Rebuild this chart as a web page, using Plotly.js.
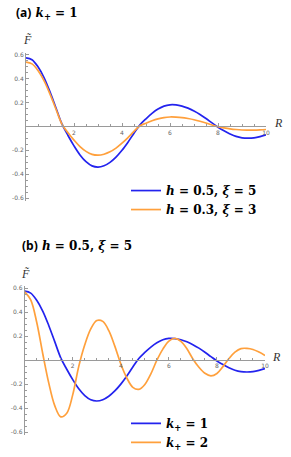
<!DOCTYPE html>
<html>
<head>
<meta charset="utf-8">
<script src="https://cdn.plot.ly/plotly-3.0.1.min.js"></script>
<style>
html,body{margin:0;padding:0;background:#fff;}
#chart{width:291px;height:457px;}
</style>
</head>
<body>
<div id="chart"></div>
<script>
// R sample positions
const R = [0,0.25,0.5,0.75,1,1.25,1.5,1.75,2,2.25,2.5,2.75,3,3.25,3.5,3.75,4,4.25,4.5,4.75,5,5.25,5.5,5.75,6,6.25,6.5,6.75,7,7.25,7.5,7.75,8,8.25,8.5,8.75,9,9.25,9.5,9.75,10];

// (a) k+ = 1 : h = 0.5, xi = 5
const F_h05_xi5 = [0.576,0.56,0.50,0.41,0.29,0.155,0.02,-0.075,-0.162,-0.238,-0.295,-0.330,-0.340,-0.329,-0.300,-0.256,-0.199,-0.131,-0.056,0.014,0.065,0.110,0.146,0.171,0.182,0.181,0.171,0.154,0.130,0.101,0.067,0.030,-0.006,-0.036,-0.062,-0.083,-0.095,-0.098,-0.095,-0.085,-0.070];
// (a) k+ = 1 : h = 0.3, xi = 3
const F_h03_xi3 = [0.54,0.525,0.469,0.384,0.272,0.145,0.019,-0.053,-0.114,-0.168,-0.208,-0.233,-0.240,-0.232,-0.212,-0.181,-0.140,-0.093,-0.040,0.006,0.028,0.048,0.064,0.075,0.080,0.079,0.075,0.067,0.057,0.044,0.029,0.013,-0.002,-0.011,-0.019,-0.025,-0.029,-0.030,-0.030,-0.028,-0.025];
// (b) h = 0.5, xi = 5 : k+ = 1 (same curve as the blue one in (a))
const F_k1 = F_h05_xi5;
// (b) h = 0.5, xi = 5 : k+ = 2
const F_k2 = [0.57,0.503,0.317,0.056,-0.189,-0.379,-0.472,-0.442,-0.287,-0.051,0.129,0.261,0.331,0.324,0.247,0.118,-0.031,-0.148,-0.226,-0.243,-0.202,-0.114,0.0,0.093,0.160,0.182,0.157,0.095,0.011,-0.059,-0.109,-0.130,-0.110,-0.053,0.014,0.067,0.097,0.099,0.090,0.068,0.040];

const labelsA = ['<b><i>h</i> = 0.5, <i>ξ</i> = 5</b>', '<b><i>h</i> = 0.3, <i>ξ</i> = 3</b>'];
const labelsB = ['<b><i>k</i><sub>+</sub> = 1</b>', '<b><i>k</i><sub>+</sub> = 2</b>'];
const yTickVals = [-0.6,-0.4,-0.2,0.2,0.4,0.6];
const yTickText = ['-0.6','-0.4','-0.2','0.2','0.4','0.6'];
const xTickVals = [2,4,6,8,10];
const xTickText = ['2','4','6','8','10'];

const BLUE = '#2323ee';
const ORANGE = '#ffa03c';

const traces = [
  {x:R, y:F_h05_xi5, xaxis:'x', yaxis:'y', mode:'lines', name:labelsA[0], legend:'legend',
   line:{color:BLUE, width:1.7, shape:'spline', smoothing:1}},
  {x:R, y:F_h03_xi3, xaxis:'x', yaxis:'y', mode:'lines', name:labelsA[1], legend:'legend',
   line:{color:ORANGE, width:1.7, shape:'spline', smoothing:1}},
  {x:R, y:F_k1, xaxis:'x2', yaxis:'y2', mode:'lines', name:labelsB[0], legend:'legend2',
   line:{color:BLUE, width:1.7, shape:'spline', smoothing:1}},
  {x:R, y:F_k2, xaxis:'x2', yaxis:'y2', mode:'lines', name:labelsB[1], legend:'legend2',
   line:{color:ORANGE, width:1.7, shape:'spline', smoothing:1}}
];

const W = 291, H = 457;
const fx = px => px / W;
const fy = py => 1 - py / H;

const axisCommon = {
  showgrid:false, zeroline:false, showline:true, linecolor:'#9a9a9a', linewidth:1,
  ticks:'inside', ticklen:3, tickcolor:'#9a9a9a', tickwidth:1,
  tickfont:{family:'DejaVu Sans, sans-serif', size:6, color:'#666'},
  fixedrange:true
};

function xAxis(yAxisName, pos, domain) {
  return Object.assign({}, axisCommon, {
    anchor:'free', overlaying:undefined, position:pos, domain:domain,
    range:[0,10], tickmode:'array', tickvals:xTickVals, ticktext:xTickText,
    minor:{tickmode:'linear', tick0:0, dtick:0.5, ticklen:2, ticks:'inside', tickcolor:'#9a9a9a', showgrid:false}
  });
}
function yAxis(xName, domain) {
  return Object.assign({}, axisCommon, {
    anchor:xName, domain:domain, range:[-0.62,0.62],
    tickmode:'array', tickvals:yTickVals, ticktext:yTickText,
    minor:{tickmode:'linear', tick0:0, dtick:0.05, ticklen:2, ticks:'inside', tickcolor:'#9a9a9a', showgrid:false}
  });
}

const xa = xAxis('y', fy(129.3), [fx(26), fx(266)]);
xa.anchor = 'free';
const ya = yAxis('x', [fy(205), fy(53.7)]);
const xb = xAxis('y2', fy(368.3), [fx(24.7), fx(265)]);
const yb = yAxis('x2', [fy(444.3), fy(292.3)]);

const serif = 'DejaVu Serif, Liberation Serif, serif';
const legendFont = {family:serif, size:12, color:'#000'};

const layout = {
  width:W, height:H,
  margin:{l:0, r:0, t:0, b:0},
  paper_bgcolor:'#fff', plot_bgcolor:'rgba(0,0,0,0)',
  showlegend:true,
  xaxis:xa, yaxis:ya, xaxis2:xb, yaxis2:yb,
  legend:{x:fx(126), y:fy(180), xanchor:'left', yanchor:'top', bgcolor:'rgba(0,0,0,0)',
          font:legendFont, tracegroupgap:0, itemclick:false},
  legend2:{x:fx(126), y:fy(418), xanchor:'left', yanchor:'top', bgcolor:'rgba(0,0,0,0)',
          font:legendFont, tracegroupgap:0, itemclick:false},
  annotations:[
    {xref:'paper', yref:'paper', x:fx(14), y:fy(13), xanchor:'left', yanchor:'middle', showarrow:false,
     text:'<b><span style="font-family:Open Sans, sans-serif">(a)</span> <i>k</i><sub>+</sub> = 1</b>',
     font:{family:serif, size:12, color:'#000'}},
    {xref:'paper', yref:'paper', x:fx(20), y:fy(251), xanchor:'left', yanchor:'middle', showarrow:false,
     text:'<b><span style="font-family:Open Sans, sans-serif">(b)</span> <i>h</i> = 0.5, <i>ξ</i> = 5</b>',
     font:{family:serif, size:12, color:'#000'}},
    {xref:'paper', yref:'paper', x:fx(27), y:fy(41), xanchor:'center', yanchor:'middle', showarrow:false,
     text:'<i>F̃</i>', font:{family:'Liberation Serif, serif', size:12, color:'#333'}},
    {xref:'paper', yref:'paper', x:fx(25), y:fy(280), xanchor:'center', yanchor:'middle', showarrow:false,
     text:'<i>F̃</i>', font:{family:'Liberation Serif, serif', size:12, color:'#333'}},
    {xref:'paper', yref:'paper', x:fx(278), y:fy(126), xanchor:'center', yanchor:'middle', showarrow:false,
     text:'<i>R</i>', font:{family:'Liberation Serif, serif', size:12, color:'#333'}},
    {xref:'paper', yref:'paper', x:fx(276), y:fy(365), xanchor:'center', yanchor:'middle', showarrow:false,
     text:'<i>R</i>', font:{family:'Liberation Serif, serif', size:12, color:'#333'}}
  ]
};

Plotly.newPlot('chart', traces, layout, {displayModeBar:false, staticPlot:true});
</script>
</body>
</html>
